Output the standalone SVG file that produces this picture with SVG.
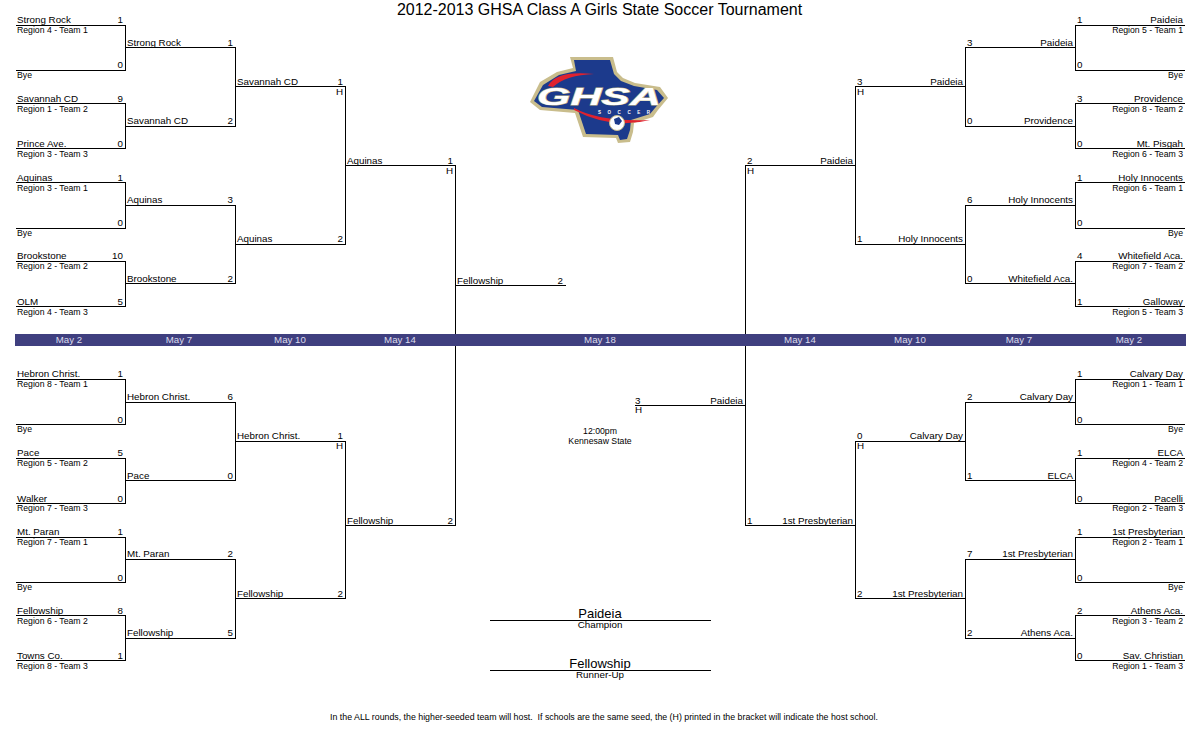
<svg xmlns="http://www.w3.org/2000/svg" width="1200" height="750" viewBox="0 0 1200 750">
<style>
text{font-family:"Liberation Sans",Arial,sans-serif;font-size:9.8px;fill:#000}
.s{font-size:8.7px}
.e{text-anchor:end}
.m{text-anchor:middle}
.d{font-size:9.7px;fill:#dcdcec;text-anchor:middle}
.c{fill:none;stroke:#000;stroke-width:1;shape-rendering:crispEdges}
</style>
<rect width="1200" height="750" fill="#fff"/>
<g id="connectors" class="c">
<path d="M16 25.500H125.500V70.500H16M16 103.500H125.500V148.500H16M16 182.500H125.500V228.500H16M16 261.500H125.500V306.500H16M16 379.500H125.500V424.500H16M16 458.500H125.500V503.500H16M16 537.500H125.500V582.500H16M16 615.500H125.500V660.500H16"/>
<path d="M125 47.500H235.500V126.500H125M125 205.500H235.500V283.500H125M125 402.500H235.500V480.500H125M125 559.500H235.500V638.500H125"/>
<path d="M235 86.500H345.500V244.500H235M235 441.500H345.500V598.500H235"/>
<path d="M345 165.500H455.500V525.500H345M455 285.500H565.500"/>
<path d="M1185 25.500H1075.500V70.500H1185M1185 103.500H1075.500V148.500H1185M1185 182.500H1075.500V228.500H1185M1185 261.500H1075.500V306.500H1185M1185 379.500H1075.500V424.500H1185M1185 458.500H1075.500V503.500H1185M1185 537.500H1075.500V582.500H1185M1185 615.500H1075.500V660.500H1185"/>
<path d="M1075 47.500H965.500V126.500H1075M1075 205.500H965.500V283.500H1075M1075 402.500H965.500V480.500H1075M1075 559.500H965.500V638.500H1075"/>
<path d="M965 86.500H855.500V244.500H965M965 441.500H855.500V598.500H965"/>
<path d="M855 165.500H745.500V525.500H855M745 405.500H635"/>
<path d="M490 620.500H711M490 670.500H711"/>
</g>
<rect id="date-band" x="15" y="334" width="1171" height="12" fill="#3f3f7f"/>
<g id="dates">
<text class="d" x="69" y="343">May 2</text><text class="d" x="179" y="343">May 7</text><text class="d" x="290" y="343">May 10</text><text class="d" x="400" y="343">May 14</text><text class="d" x="600" y="343">May 18</text><text class="d" x="800" y="343">May 14</text><text class="d" x="910" y="343">May 10</text><text class="d" x="1019" y="343">May 7</text><text class="d" x="1129" y="343">May 2</text>
</g>
<text id="title" x="599.500" y="15" class="m" style="font-size:16px">2012-2013 GHSA Class A Girls State Soccer Tournament</text>
<g id="logo">
<path d="M570 57H613L617 72L623 78L635 83L660 87L668 98L658 110L653 117L634 123L633 132L630 142L618 143L616 138L583 137L575 113L540 110L530 102L540 82L557 72L573 68Z" fill="#c9bd8c"/>
<path d="M574 60H610L614 74L621 81L634 86L657 90L664 98L655 108L650 114L631 120L630 130L627 139L620 140L618 135L586 134L578 110L542 107L534 101L543 85L559 75L576 71Z" fill="#1c3a8c"/>
<path d="M548 86Q556 70 594 74Q566 75 553 87Z" fill="#e0222e"/>
<path d="M574 108Q600 122 650 120Q612 130 574 110Z" fill="#e0222e"/>
<text x="537" y="105" textLength="124" lengthAdjust="spacingAndGlyphs" style="font-size:24px;font-weight:bold;font-style:italic;fill:#fff;stroke:#c9bd8c;stroke-width:1;paint-order:stroke">GHSA</text>
<text x="624" y="114" class="m" textLength="52" style="font-size:4.500px;font-weight:bold;fill:#fff">SOCCER</text>
<circle cx="617" cy="123" r="7.500" fill="#fff" stroke="#c9bd8c"/>
<path d="M614 119L619 117L622 121L619 125L615 124Z" fill="#1c3a8c"/>
</g>
<g id="r1-left">
<g id="l1"><text x="17" y="23">Strong Rock</text><text class="e" x="123" y="23">1</text><text class="s" x="17" y="33">Region 4 - Team 1</text><text class="e" x="123" y="68">0</text><text class="s" x="17" y="78">Bye</text></g>
<g id="l2"><text x="17" y="102">Savannah CD</text><text class="e" x="123" y="102">9</text><text class="s" x="17" y="112">Region 1 - Team 2</text><text x="17" y="147">Prince Ave.</text><text class="e" x="123" y="147">0</text><text class="s" x="17" y="157">Region 3 - Team 3</text></g>
<g id="l3"><text x="17" y="181">Aquinas</text><text class="e" x="123" y="181">1</text><text class="s" x="17" y="191">Region 3 - Team 1</text><text class="e" x="123" y="226">0</text><text class="s" x="17" y="236">Bye</text></g>
<g id="l4"><text x="17" y="259">Brookstone</text><text class="e" x="123" y="259">10</text><text class="s" x="17" y="269">Region 2 - Team 2</text><text x="17" y="305">OLM</text><text class="e" x="123" y="305">5</text><text class="s" x="17" y="315">Region 4 - Team 3</text></g>
<g id="l5"><text x="17" y="377">Hebron Christ.</text><text class="e" x="123" y="377">1</text><text class="s" x="17" y="387">Region 8 - Team 1</text><text class="e" x="123" y="423">0</text><text class="s" x="17" y="432">Bye</text></g>
<g id="l6"><text x="17" y="456">Pace</text><text class="e" x="123" y="456">5</text><text class="s" x="17" y="466">Region 5 - Team 2</text><text x="17" y="502">Walker</text><text class="e" x="123" y="502">0</text><text class="s" x="17" y="511">Region 7 - Team 3</text></g>
<g id="l7"><text x="17" y="535">Mt. Paran</text><text class="e" x="123" y="535">1</text><text class="s" x="17" y="545">Region 7 - Team 1</text><text class="e" x="123" y="581">0</text><text class="s" x="17" y="590">Bye</text></g>
<g id="l8"><text x="17" y="614">Fellowship</text><text class="e" x="123" y="614">8</text><text class="s" x="17" y="624">Region 6 - Team 2</text><text x="17" y="659">Towns Co.</text><text class="e" x="123" y="659">1</text><text class="s" x="17" y="669">Region 8 - Team 3</text></g>
</g>
<g id="r2-left">
<g id="l9"><text x="127" y="46">Strong Rock</text><text class="e" x="233" y="46">1</text><text x="127" y="124">Savannah CD</text><text class="e" x="233" y="124">2</text></g>
<g id="l10"><text x="127" y="203">Aquinas</text><text class="e" x="233" y="203">3</text><text x="127" y="282">Brookstone</text><text class="e" x="233" y="282">2</text></g>
<g id="l11"><text x="127" y="400">Hebron Christ.</text><text class="e" x="233" y="400">6</text><text x="127" y="479">Pace</text><text class="e" x="233" y="479">0</text></g>
<g id="l12"><text x="127" y="557">Mt. Paran</text><text class="e" x="233" y="557">2</text><text x="127" y="636">Fellowship</text><text class="e" x="233" y="636">5</text></g>
</g>
<g id="r3-left">
<g id="l13"><text x="237" y="85">Savannah CD</text><text class="e" x="343" y="85">1</text><text class="e" x="343" y="95">H</text><text x="237" y="242">Aquinas</text><text class="e" x="343" y="242">2</text></g>
<g id="l14"><text x="237" y="439">Hebron Christ.</text><text class="e" x="343" y="439">1</text><text class="e" x="343" y="449">H</text><text x="237" y="597">Fellowship</text><text class="e" x="343" y="597">2</text></g>
</g>
<g id="r4-left"><text x="347" y="164">Aquinas</text><text class="e" x="453" y="164">1</text><text class="e" x="453" y="174">H</text><text x="347" y="524">Fellowship</text><text class="e" x="453" y="524">2</text></g>
<g id="semi-left"><text x="457" y="284">Fellowship</text><text class="e" x="563" y="284">2</text></g>
<g id="semi-right"><text x="635" y="404">3</text><text x="635" y="413">H</text><text class="e" x="743" y="404">Paideia</text></g>
<g id="venue"><text class="s m" x="600" y="434">12:00pm</text><text class="s m" x="600" y="444">Kennesaw State</text></g>
<g id="r4-right"><text x="747" y="164">2</text><text x="747" y="174">H</text><text class="e" x="853" y="164">Paideia</text><text x="747" y="524">1</text><text class="e" x="853" y="524">1st Presbyterian</text></g>
<g id="r3-right">
<g id="r13"><text x="857" y="85">3</text><text x="857" y="95">H</text><text class="e" x="963" y="85">Paideia</text><text x="857" y="242">1</text><text class="e" x="963" y="242">Holy Innocents</text></g>
<g id="r14"><text x="857" y="439">0</text><text x="857" y="449">H</text><text class="e" x="963" y="439">Calvary Day</text><text x="857" y="597">2</text><text class="e" x="963" y="597">1st Presbyterian</text></g>
</g>
<g id="r2-right">
<g id="r9"><text x="967" y="46">3</text><text class="e" x="1073" y="46">Paideia</text><text x="967" y="124">0</text><text class="e" x="1073" y="124">Providence</text></g>
<g id="r10"><text x="967" y="203">6</text><text class="e" x="1073" y="203">Holy Innocents</text><text x="967" y="282">0</text><text class="e" x="1073" y="282">Whitefield Aca.</text></g>
<g id="r11"><text x="967" y="400">2</text><text class="e" x="1073" y="400">Calvary Day</text><text x="967" y="479">1</text><text class="e" x="1073" y="479">ELCA</text></g>
<g id="r12"><text x="967" y="557">7</text><text class="e" x="1073" y="557">1st Presbyterian</text><text x="967" y="636">2</text><text class="e" x="1073" y="636">Athens Aca.</text></g>
</g>
<g id="r1-right">
<g id="r1"><text x="1077" y="23">1</text><text class="e" x="1183" y="23">Paideia</text><text class="s e" x="1183" y="33">Region 5 - Team 1</text><text x="1077" y="68">0</text><text class="s e" x="1183" y="78">Bye</text></g>
<g id="r2"><text x="1077" y="102">3</text><text class="e" x="1183" y="102">Providence</text><text class="s e" x="1183" y="112">Region 8 - Team 2</text><text x="1077" y="147">0</text><text class="e" x="1183" y="147">Mt. Pisgah</text><text class="s e" x="1183" y="157">Region 6 - Team 3</text></g>
<g id="r3"><text x="1077" y="181">1</text><text class="e" x="1183" y="181">Holy Innocents</text><text class="s e" x="1183" y="191">Region 6 - Team 1</text><text x="1077" y="226">0</text><text class="s e" x="1183" y="236">Bye</text></g>
<g id="r4"><text x="1077" y="259">4</text><text class="e" x="1183" y="259">Whitefield Aca.</text><text class="s e" x="1183" y="269">Region 7 - Team 2</text><text x="1077" y="305">1</text><text class="e" x="1183" y="305">Galloway</text><text class="s e" x="1183" y="315">Region 5 - Team 3</text></g>
<g id="r5"><text x="1077" y="377">1</text><text class="e" x="1183" y="377">Calvary Day</text><text class="s e" x="1183" y="387">Region 1 - Team 1</text><text x="1077" y="423">0</text><text class="s e" x="1183" y="432">Bye</text></g>
<g id="r6"><text x="1077" y="456">1</text><text class="e" x="1183" y="456">ELCA</text><text class="s e" x="1183" y="466">Region 4 - Team 2</text><text x="1077" y="502">0</text><text class="e" x="1183" y="502">Pacelli</text><text class="s e" x="1183" y="511">Region 2 - Team 3</text></g>
<g id="r7"><text x="1077" y="535">1</text><text class="e" x="1183" y="535">1st Presbyterian</text><text class="s e" x="1183" y="545">Region 2 - Team 1</text><text x="1077" y="581">0</text><text class="s e" x="1183" y="590">Bye</text></g>
<g id="r8"><text x="1077" y="614">2</text><text class="e" x="1183" y="614">Athens Aca.</text><text class="s e" x="1183" y="624">Region 3 - Team 2</text><text x="1077" y="659">0</text><text class="e" x="1183" y="659">Sav. Christian</text><text class="s e" x="1183" y="669">Region 1 - Team 3</text></g>
</g>
<g id="champion"><text class="m" x="600" y="618" style="font-size:13px">Paideia</text><text class="m" x="600" y="628">Champion</text></g>
<g id="runner-up"><text class="m" x="600" y="668" style="font-size:13px">Fellowship</text><text class="m" x="600" y="678">Runner-Up</text></g>
<text id="note" class="m" x="604" y="720" style="font-size:8.800px;white-space:pre">In the ALL rounds, the higher-seeded team will host.  If schools are the same seed, the (H) printed in the bracket will indicate the host school.</text>
</svg>
